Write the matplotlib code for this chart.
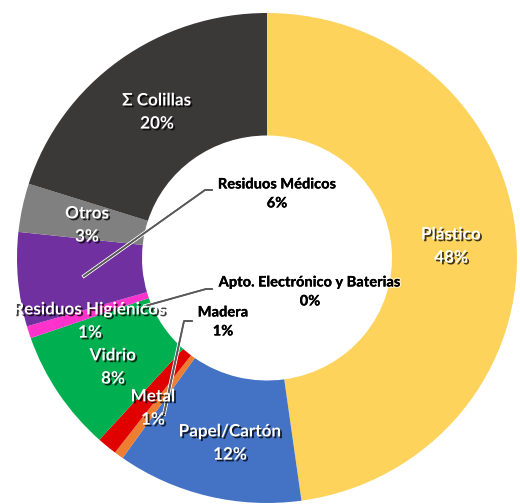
import numpy as np
import matplotlib
matplotlib.use("Agg")
import matplotlib.pyplot as plt
import matplotlib.patheffects as pe

# ==========================================
# 資料 (順時針, 由正上方開始)
# ==========================================
categories = ["Plástico", "Papel/Cartón", "Madera", "Metal", "Vidrio",
              "Residuos Higiénicos", "Residuos Médicos", "Otros", "Σ Colillas",
              "Apto. Electrónico y Baterias"]
values = [47.8, 12.0, 0.6, 1.3, 8.0, 0.8, 6.2, 3.2, 20.1, 0.0]
colors = ["#FDD35B", "#4472C4", "#ED7D31", "#E00000", "#00B050",
          "#FF33CC", "#7030A0", "#808080", "#3B3838", "#A5A5A5"]

W, H = 520, 504
CX, CY, RX, RY = 267, 258, 250, 245   # 圓心與半徑 (像素)

def px(x, y):
    # 像素座標 -> 資料座標
    return (x - CX) / RX, (CY - y) / RY

fig = plt.figure(figsize=(W / 100, H / 100), dpi=100)
ax = fig.add_axes([0, 0, 1, 1])
ax.pie(values, colors=colors, startangle=90, counterclock=False,
       radius=1.0, wedgeprops=dict(width=0.5, linewidth=0))
ax.set_aspect("auto")
ax.set_xlim(px(0, 0)[0], px(W, 0)[0])
ax.set_ylim(px(0, H)[1], px(0, 0)[1])
ax.axis("off")

# ==========================================
# 標籤
# ==========================================
white_fx = [pe.SimplePatchShadow(offset=(1.3, -1.3), shadow_rgbFace="black", alpha=0.75),
            pe.Normal()]
black_fx = [pe.withStroke(linewidth=2, foreground="white", alpha=0.6), pe.Normal()]

label_pos = {
    "Σ Colillas": (157, 112),
    "Otros": (87, 225),
    "Plástico": (451, 246),
    "Papel/Cartón": (230, 443),
    "Vidrio": (113, 367),
    "Metal": (153, 408),
    "Residuos Higiénicos": (90, 321),
    "Residuos Médicos": (277, 194),
    "Apto. Electrónico y Baterias": (310, 292),
    "Madera": (223, 322),
}
outside = ["Residuos Médicos", "Apto. Electrónico y Baterias", "Madera"]

# 導引線
leaders = {
    "Residuos Médicos": [(212, 190), (205, 190), (84, 276)],
    "Apto. Electrónico y Baterias": [(212, 289), (206, 289), (145, 306)],
    "Madera": [(192, 321), (184, 321), (164, 414)],
}
for name, pts in leaders.items():
    xs, ys = zip(*[px(*p) for p in pts])
    ax.plot(xs, ys, color="#595959", lw=1.2,
            path_effects=[pe.withStroke(linewidth=2.6, foreground="white"), pe.Normal()])

for name, v in zip(categories, values):
    x, y = px(*label_pos[name])
    txt = f"{name}\n{round(v)}%"
    if name in outside:
        ax.text(x, y, txt, ha="center", va="center", fontsize=10.5, fontweight="black",
                family="Lato", color="black", linespacing=1.45, path_effects=black_fx)
    else:
        ax.text(x, y, txt, ha="center", va="center", fontsize=12.3, fontweight="bold",
                family="Lato", color="white", linespacing=1.55, path_effects=white_fx)

fig.savefig("out.png", dpi=100)
